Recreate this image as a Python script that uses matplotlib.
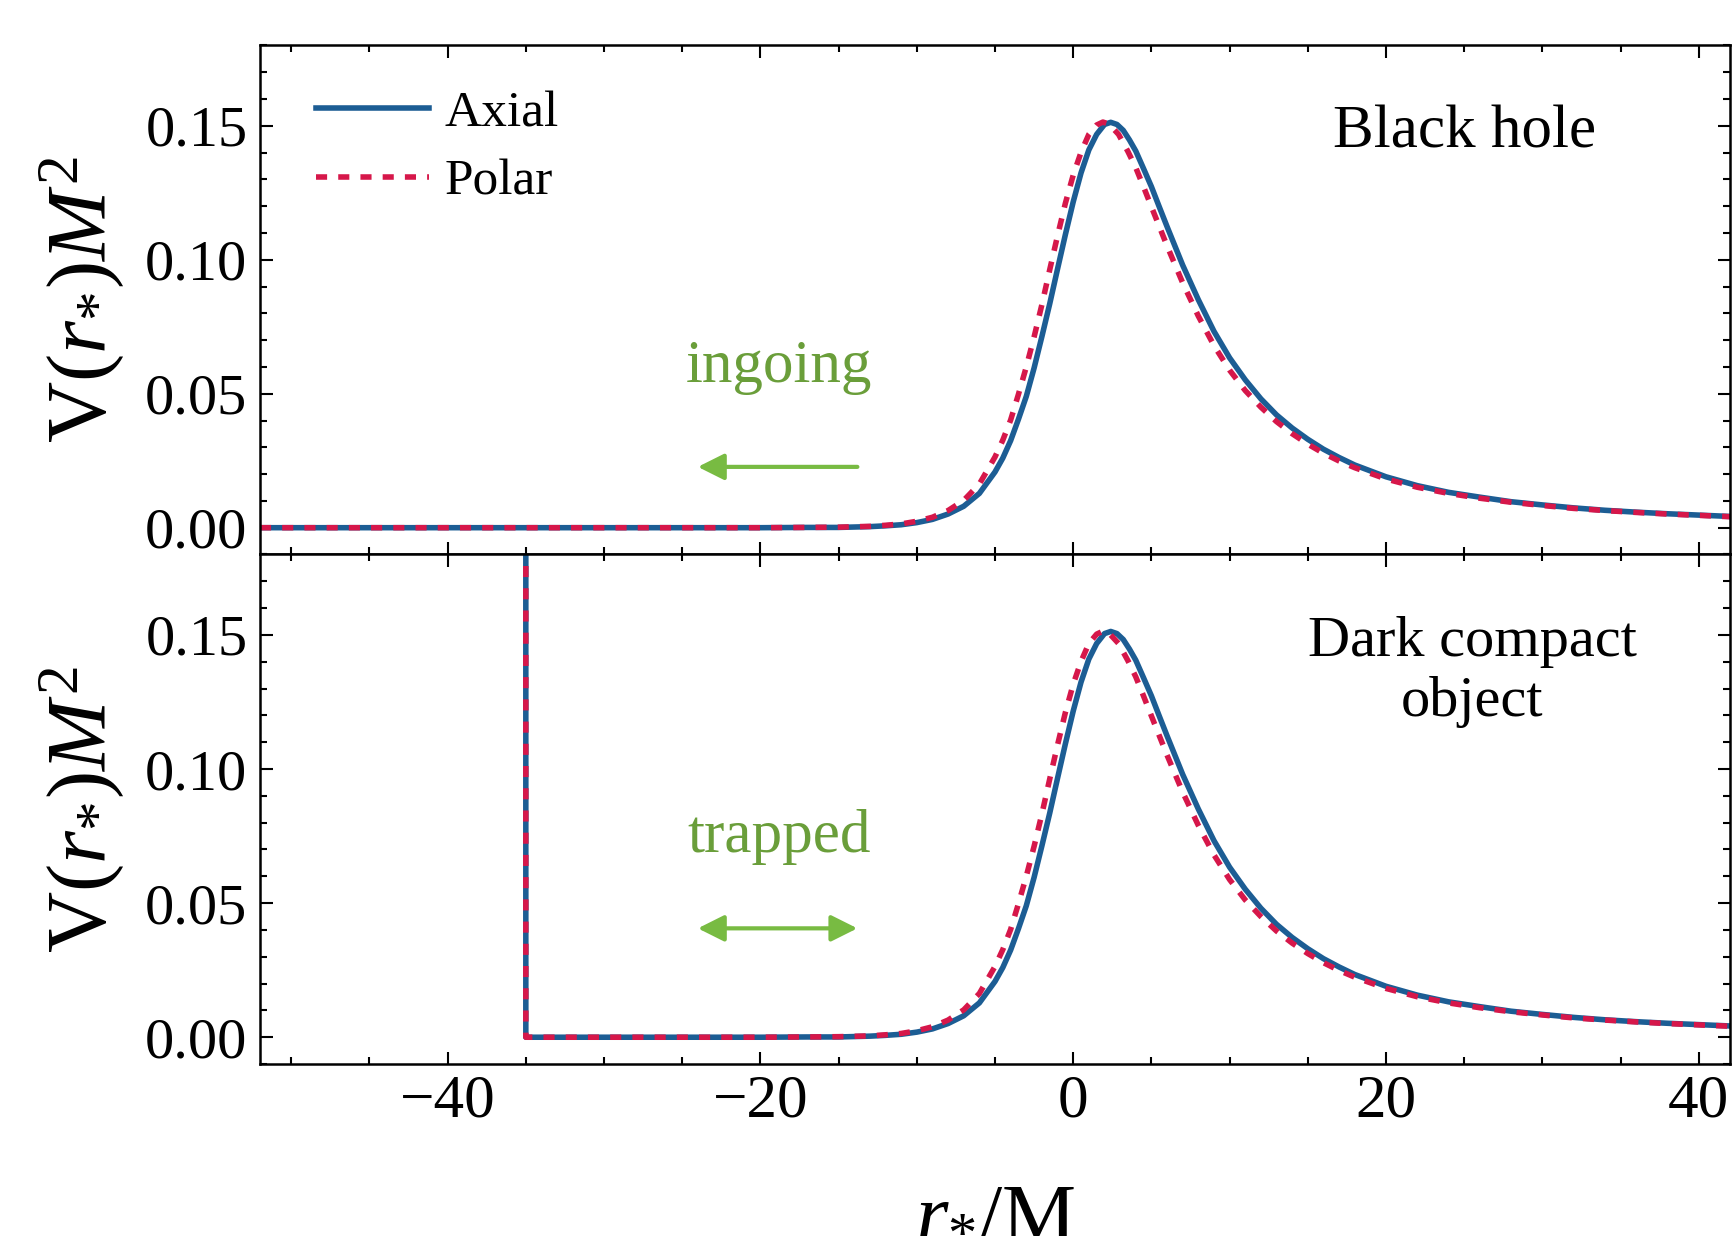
import matplotlib.pyplot as plt
from matplotlib.ticker import MultipleLocator, FormatStrFormatter

plt.rcParams['font.family'] = 'Liberation Serif'
plt.rcParams['mathtext.fontset'] = 'custom'
plt.rcParams['mathtext.rm'] = 'Liberation Serif'
plt.rcParams['mathtext.it'] = 'Liberation Serif:italic'

# tortoise coordinate r_*/M and potential V M^2
r_axial = [-52, -45, -40, -35, -30, -25, -20, -17, -15, -13, -12, -11, -10, -9, -8, -7, -6, -5,
           -4.5, -4, -3.5, -3, -2.5, -2, -1.5, -1, -0.5, 0, 0.5, 1, 1.5, 2, 2.4, 2.8, 3.2, 3.6, 4,
           4.5, 5, 5.5, 6, 7, 8, 9, 10, 11, 12, 13, 14, 15, 16, 17, 18,
           20, 22, 24, 26, 28, 30, 32, 34, 36, 38, 40, 42]
v_axial = [0, 0, 0, 0, 0, 0, 0, 0.0001, 0.0001, 0.0004, 0.0007, 0.0011, 0.0019, 0.0031, 0.0051, 0.0080, 0.0128, 0.0208,
           0.0260, 0.0325, 0.0405, 0.0490, 0.0596, 0.0714, 0.0836, 0.0966, 0.1094, 0.1216, 0.1324, 0.1410, 0.1468, 0.1505, 0.1513, 0.1505, 0.1483, 0.1447, 0.1406,
           0.1340, 0.1273, 0.1198, 0.1124, 0.0980, 0.0851, 0.0733, 0.0634, 0.0552, 0.0481, 0.0421, 0.0372, 0.0330, 0.0293, 0.0262, 0.0234,
           0.0190, 0.0157, 0.0132, 0.0114, 0.0097, 0.0085, 0.0074, 0.0065, 0.0058, 0.0052, 0.0047, 0.0042]

r_polar = [-52, -45, -40, -35, -30, -25, -20, -17, -15, -13, -12, -11, -10, -9, -8, -7, -6, -5,
           -4.5, -4, -3.5, -3, -2.5, -2, -1.5, -1, -0.5, 0, 0.5, 1, 1.5, 1.9, 2.3, 2.9, 3.5, 4,
           4.5, 5, 5.5, 6, 7, 8, 9, 10, 11, 12, 13, 14, 15, 16, 17, 18,
           20, 22, 24, 26, 28, 30, 32, 34, 36, 38, 40, 42]
v_polar = [0, 0, 0, 0, 0, 0, 0, 0.0001, 0.0002, 0.0005, 0.0009, 0.0014, 0.0024, 0.0039, 0.0064, 0.0102, 0.0163, 0.0264,
           0.0327, 0.0402, 0.0498, 0.0600, 0.0712, 0.0833, 0.0963, 0.1090, 0.1211, 0.1316, 0.1401, 0.1468, 0.1503, 0.1514, 0.1506, 0.1468, 0.1404, 0.1344,
           0.1272, 0.1198, 0.1125, 0.1052, 0.0914, 0.0790, 0.0680, 0.0588, 0.0512, 0.0450, 0.0396, 0.0351, 0.0312, 0.0278, 0.0249, 0.0224,
           0.0182, 0.0151, 0.0128, 0.0110, 0.0095, 0.0083, 0.0072, 0.0064, 0.0057, 0.0051, 0.0046, 0.0041]

# reflecting surface of the compact object
wall_pos = -35
wall_top = 0.3

# annotation arrows (tail, head) in data units
ingoing_arrow = ((-13.8, 0.0227), (-24.0, 0.0227))
trapped_arrow = ((-24.0, 0.0406), (-13.8, 0.0406))

blue = '#1c5d94'
red = '#d6174a'
green_txt = '#6a9e3a'
green_arr = '#78bb42'

fig = plt.figure(figsize=(17.33, 12.48), dpi=100)
ax1 = fig.add_axes([0.150, 0.5557, 0.8483, 0.4079])
ax2 = fig.add_axes([0.150, 0.1474, 0.8483, 0.4083])

lw = 4.0
dash = (2.0, 2.0)

ln_a, = ax1.plot(r_axial, v_axial, color=blue, lw=lw, label='Axial')
ln_p, = ax1.plot(r_polar, v_polar, color=red, lw=lw, ls=(0, dash), label='Polar')

# bottom: same potentials, cut by the wall at r_* = -35
ra = [wall_pos] + [r for r in r_axial if r >= wall_pos]
va = [wall_top] + [v for r, v in zip(r_axial, v_axial) if r >= wall_pos]
rp = [wall_pos] + [r for r in r_polar if r >= wall_pos]
vp = [wall_top] + [v for r, v in zip(r_polar, v_polar) if r >= wall_pos]
ax2.plot(ra, va, color=blue, lw=lw)
ax2.plot(rp, vp, color=red, lw=lw, ls=(0, dash))

for ax in (ax1, ax2):
    ax.set_xlim(-52, 42)
    ax.set_ylim(-0.01, 0.18)
    ax.xaxis.set_major_locator(MultipleLocator(20))
    ax.xaxis.set_minor_locator(MultipleLocator(5))
    ax.yaxis.set_major_locator(MultipleLocator(0.05))
    ax.yaxis.set_minor_locator(MultipleLocator(0.01))
    ax.yaxis.set_major_formatter(FormatStrFormatter('%.2f'))
    ax.tick_params(which='both', direction='in', top=True, right=True, width=1.5)
    ax.tick_params(which='major', length=9)
    ax.tick_params(which='minor', length=5)
    ax.tick_params(axis='y', labelsize=42, pad=9)
    ax.tick_params(axis='x', labelsize=44, pad=7)
    for s in ax.spines.values():
        s.set_linewidth(1.8)
    ax.set_ylabel(r'$\mathrm{V}(r_{*})M^2$', fontsize=61)
    ax.yaxis.set_label_coords(-0.091, 0.5)

ax1.tick_params(axis='x', labelbottom=False)
ax2.set_xlabel(r'$r_{*}/\mathrm{M}$', fontsize=60)
ax2.xaxis.set_label_coords(0.5, -0.215)

ax1.legend(handles=[ln_a, ln_p], loc='upper left', bbox_to_anchor=(0.038, 0.912),
           frameon=False, fontsize=37, handlelength=2.2, handletextpad=0.3,
           labelspacing=0.42, borderpad=0, borderaxespad=0)

ax1.text(25.0, 0.1475, 'Black hole', fontsize=44, ha='center', va='center')
ax2.text(25.5, 0.136, 'Dark compact\nobject', fontsize=42, ha='center', va='center',
         linespacing=1.2)

ax1.text(-18.8, 0.0545, 'ingoing', fontsize=44, color=green_txt, ha='center', va='baseline')
ax2.text(-18.8, 0.069, 'trapped', fontsize=44, color=green_txt, ha='center', va='baseline')

ax1.annotate('', xy=ingoing_arrow[1], xytext=ingoing_arrow[0],
             arrowprops=dict(arrowstyle='-|>,head_length=0.8,head_width=0.4', color=green_arr,
                             lw=3, mutation_scale=20, shrinkA=0, shrinkB=0))
ax2.annotate('', xy=trapped_arrow[1], xytext=trapped_arrow[0],
             arrowprops=dict(arrowstyle='<|-|>,head_length=0.8,head_width=0.4', color=green_arr,
                             lw=3, mutation_scale=20, shrinkA=0, shrinkB=0))

fig.savefig('out.png', dpi=100)
